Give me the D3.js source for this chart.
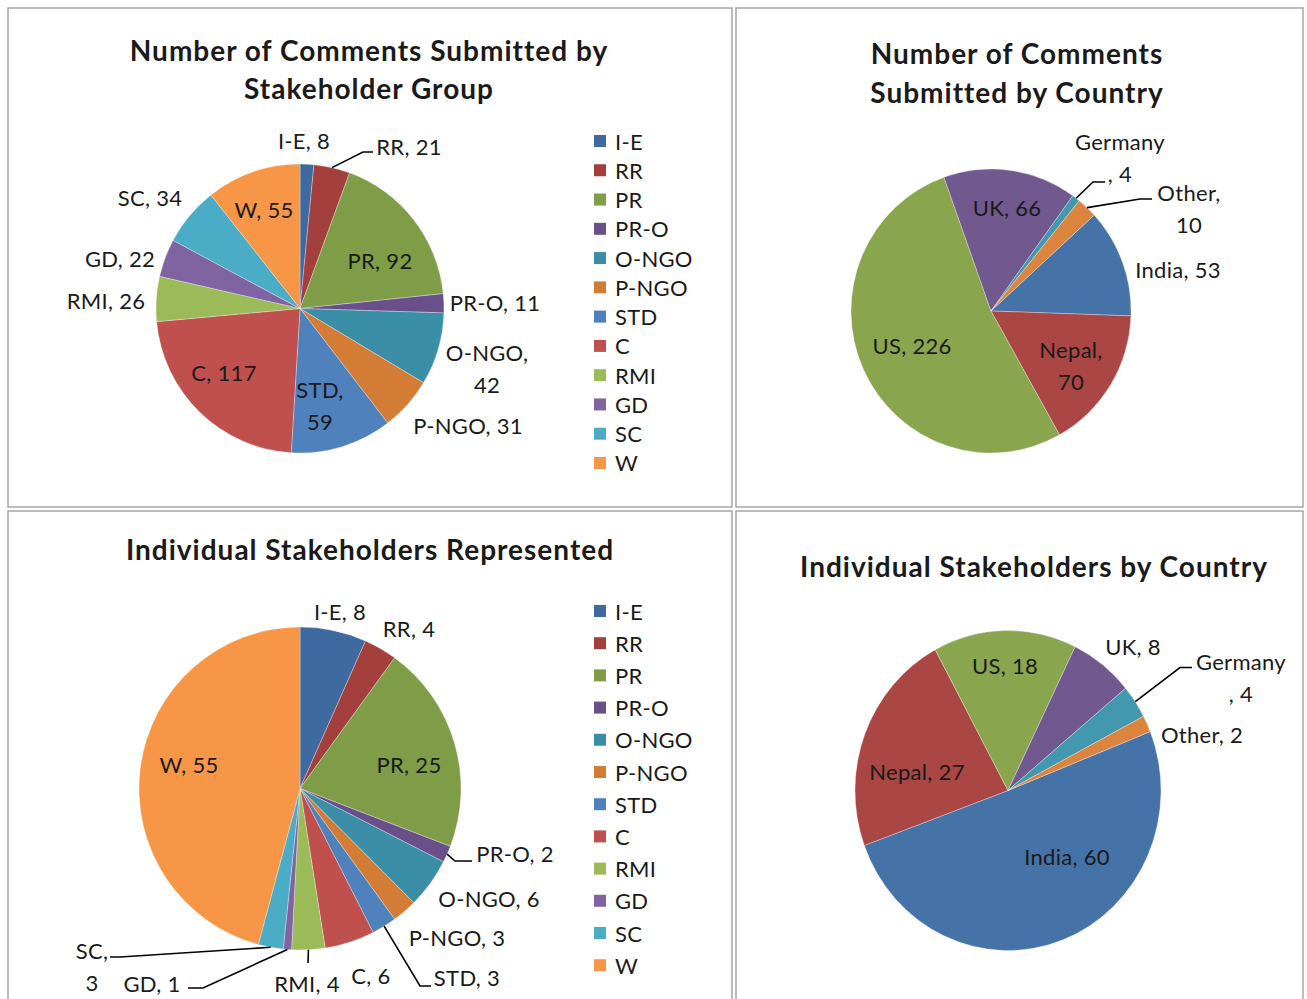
<!DOCTYPE html>
<html><head><meta charset="utf-8">
<script src="https://cdn.jsdelivr.net/npm/d3@7"></script>
<style>
html,body{margin:0;padding:0;background:#fff;}
text{font-family:Lato,"Open Sans",sans-serif;fill:#1a1a1a;}
</style></head>
<body>
<svg id="c" width="1307" height="999"></svg>
<script>
// ---------------- DATA ----------------
const groupCats = ["I-E","RR","PR","PR-O","O-NGO","P-NGO","STD","C","RMI","GD","SC","W"];
const commentsByGroup = [8,21,92,11,42,31,59,117,26,22,34,55];
const stakeholdersByGroup = [8,4,25,2,6,3,3,6,4,1,3,55];
const countryCats = ["India","Nepal","US","UK","Germany","Other"];
const commentsByCountry = [53,70,226,66,4,10];
const stakeholdersByCountry = [60,27,18,8,4,2];

// ---------------- STYLE ----------------
const groupColors = ["#3F6A9F","#A3403D","#7F9C47","#69508B","#3A8EA6","#D27C35",
                     "#4F81BD","#C0504D","#9BBB59","#8064A2","#4BACC6","#F79646"];
const countryColors = ["#4572A7","#AA4643","#89A54E","#71588F","#4198AF","#DB843D"];

const svg = d3.select("#c");
const deg = Math.PI/180;

// panel frames
const frames = [[8,8,724,499],[736,8,567,499],[8,511,724,492],[736,511,567,492]];
svg.selectAll("rect.frame").data(frames).join("rect")
  .attr("class","frame")
  .attr("x",d=>d[0]).attr("y",d=>d[1]).attr("width",d=>d[2]).attr("height",d=>d[3])
  .attr("fill","none").attr("stroke","#a6a6a6").attr("stroke-width",1.5);

// ---------------- LAYOUT ----------------
const panels = [
  { cats: groupCats, vals: commentsByGroup, colors: groupColors,
    cx: 300, cy: 308.5, rx: 144, ry: 144.5, start: 0,
    title: ["Number of Comments Submitted by","Stakeholder Group"], tx: 369, ty: 50, tlh: 38,
    legend: {x: 594, y: 141, step: 29.27},
    labels: [
      {p:[4,-168.5]}, {p:[109,-162.5], lead:[63,-156.5,73,-156.5]}, {p:[80,-48.5]}, {p:[195,-6.5]},
      {p:[187,60], br:"after"}, {p:[168,116.5]}, {p:[20,97], br:"after"}, {p:[-76,63.5]},
      {p:[-194,-8.5]}, {p:[-180,-50.5]}, {p:[-150,-111.5]}, {p:[-36,-99.5]}
    ]},
  { cats: countryCats, vals: commentsByCountry, colors: countryColors,
    cx: 991, cy: 311, rx: 140, ry: 142, start: 47.5,
    title: ["Number of Comments","Submitted by Country"], tx: 1017, ty: 53, tlh: 39,
    labels: [
      {p:[187,-42]}, {p:[80,54], br:"after"}, {p:[-79,34]}, {p:[16,-104]},
      {p:[129,-153.5], br:"before", lead:[102,-129,114,-129]},
      {p:[198,-103], br:"after", lead:[149,-112,161,-112]}
    ]},
  { cats: groupCats, vals: stakeholdersByGroup, colors: groupColors,
    cx: 300, cy: 788.5, rx: 161, ry: 161.5, start: 0,
    title: ["Individual Stakeholders Represented"], tx: 370, ty: 549, tlh: 38,
    legend: {x: 594, y: 611, step: 32.2},
    labels: [
      {p:[40,-177.5]}, {p:[109,-160.5]}, {p:[109,-24.5]}, {p:[215,64.5], lead:[155,72.5,172,72.5]},
      {p:[189,109.5]}, {p:[157,148.5]}, {p:[167,188.5], lead:[120,197.5,131,197.5]}, {p:[71,186.5]},
      {p:[7,194.5], lead:[8,174.5,8,174.5]}, {p:[-148,194.5], lead:[-97,199.5,-112,199.5]},
      {p:[-208,178], br:"after", lead:[-180,168.5,-190,168.5]}, {p:[-111,-24.5]}
    ]},
  { cats: countryCats, vals: stakeholdersByCountry, colors: countryColors,
    cx: 1008, cy: 790.5, rx: 153, ry: 160, start: 68.4,
    title: ["Individual Stakeholders by Country"], tx: 1034, ty: 566, tlh: 38,
    labels: [
      {p:[59,66]}, {p:[-91,-19]}, {p:[-3,-125]}, {p:[125,-144]},
      {p:[233,-113], br:"before", lead:[172,-123,184,-123]}, {p:[194,-56]}
    ]}
];

const labelSize = 22, labelSpacing = 0.3, lineH = 32;
const titleSize = 28, titleSpacing = 1;

panels.forEach(P => {
  const data = P.cats.map((c,i)=>({cat:c, value:P.vals[i], i}));
  const pie = d3.pie().sort(null).value(d=>d.value)
    .startAngle(P.start*deg).endAngle(P.start*deg + 2*Math.PI);
  const arcs = pie(data);
  const arc = d3.arc().innerRadius(0).outerRadius(P.rx);
  const edge = d3.arc().innerRadius(P.rx).outerRadius(P.rx);
  const sy = P.ry / P.rx;

  const g = svg.append("g").attr("transform",`translate(${P.cx},${P.cy})`);
  g.append("g").attr("transform",`scale(1,${sy})`)
    .selectAll("path").data(arcs).join("path")
    .attr("d",arc).attr("fill",d=>P.colors[d.data.i])
    .attr("stroke","#ffffff").attr("stroke-opacity",0.5).attr("stroke-width",0.6);

  // leader lines
  arcs.forEach((a,k) => {
    const L = P.labels[k];
    if (!L.lead) return;
    const e = edge.centroid(a);
    const pts = [[e[0], e[1]*sy],[L.lead[0],L.lead[1]],[L.lead[2],L.lead[3]]];
    g.append("path").attr("d", d3.line()(pts))
      .attr("fill","none").attr("stroke","#000").attr("stroke-width",1.6);
  });

  // data labels
  arcs.forEach((a,k) => {
    const L = P.labels[k];
    const d = a.data;
    let lines;
    if (L.br === "after") lines = [d.cat + ",", String(d.value)];
    else if (L.br === "before") lines = [d.cat, ", " + d.value];
    else lines = [d.cat + ", " + d.value];
    const t = g.append("text").attr("text-anchor","middle").attr("font-size",labelSize)
      .attr("letter-spacing",labelSpacing);
    lines.forEach((s,j) => {
      t.append("tspan").attr("x",L.p[0])
       .attr("y", L.p[1] + (j - (lines.length-1)/2)*lineH)
       .attr("dominant-baseline","central").text(s);
    });
  });

  // title
  const tt = svg.append("text").attr("text-anchor","middle").attr("font-size",titleSize)
    .attr("font-weight","bold").attr("letter-spacing",titleSpacing);
  P.title.forEach((s,j)=> tt.append("tspan").attr("x",P.tx).attr("y",P.ty + j*P.tlh)
      .attr("dominant-baseline","central").text(s));

  // legend
  if (P.legend) {
    const lg = svg.append("g");
    const items = lg.selectAll("g").data(data).join("g")
      .attr("transform",(d,i)=>`translate(${P.legend.x},${P.legend.y + i*P.legend.step})`);
    items.append("rect").attr("x",0).attr("y",-6).attr("width",12).attr("height",12)
      .attr("fill",d=>P.colors[d.i]);
    items.append("text").attr("x",21).attr("y",0).attr("dominant-baseline","central")
      .attr("font-size",labelSize).attr("letter-spacing",labelSpacing).text(d=>d.cat);
  }
});
</script>
</body></html>
